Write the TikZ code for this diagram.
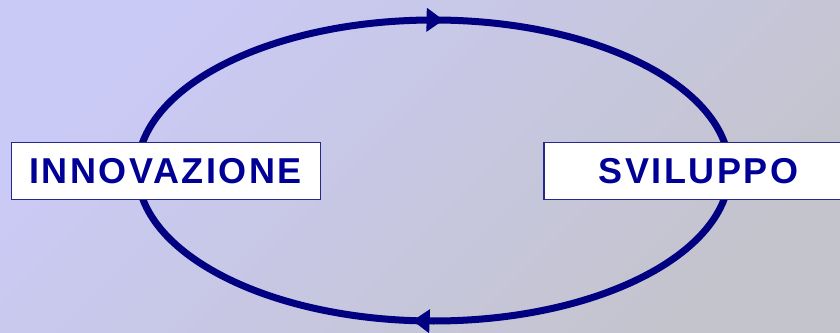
\documentclass[tikz,border=0pt]{standalone}
\usepackage{fontspec}
\newfontfamily\phasefont[LetterSpace=7]{Liberation Sans}
\usetikzlibrary{arrows.meta,decorations.markings}

\definecolor{bgleft}{RGB}{202,202,247}
\definecolor{bgright}{RGB}{196,196,205}
\definecolor{cycleblue}{RGB}{0,0,128}
\definecolor{textblue}{RGB}{0,0,150}
\definecolor{boxline}{RGB}{40,40,140}

\begin{document}
\begin{tikzpicture}[x=1pt, y=1pt,
    phase/.style={draw=boxline, line width=1.3pt, fill=white, inner sep=0pt,
      minimum width=309pt, minimum height=57pt, text=textblue,
      font=\phasefont\bfseries\fontsize{36}{40}\selectfont},
    cycle/.style={line width=7pt, cycleblue, postaction={decorate}},
    tip at/.style={decoration={markings, mark=at position #1 with
      {\arrow{Triangle[length=17pt,width=23pt]}}}}]
  \useasboundingbox (0,0) rectangle (840,332);
  \clip (0,0) rectangle (840,332);
  \shade[top color=bgleft, bottom color=bgright, shading angle=45] (0,0) rectangle (840,332);

  % the loop, drawn as two halves
  \coordinate (west) at (137.5,161.5);
  \coordinate (east) at (729.5,161.5);
  \draw[cycle, tip at=0.514] (west) arc[start angle=180, end angle=0, x radius=296, y radius=150.5];
  \draw[cycle, tip at=0.529] (east) arc[start angle=0, end angle=-180, x radius=296, y radius=150.5];

  \node[phase] (innovazione) at (165.7,161) {INNOVAZIONE};
  \node[phase] (sviluppo) at (698.5,161) {SVILUPPO};
\end{tikzpicture}
\end{document}
